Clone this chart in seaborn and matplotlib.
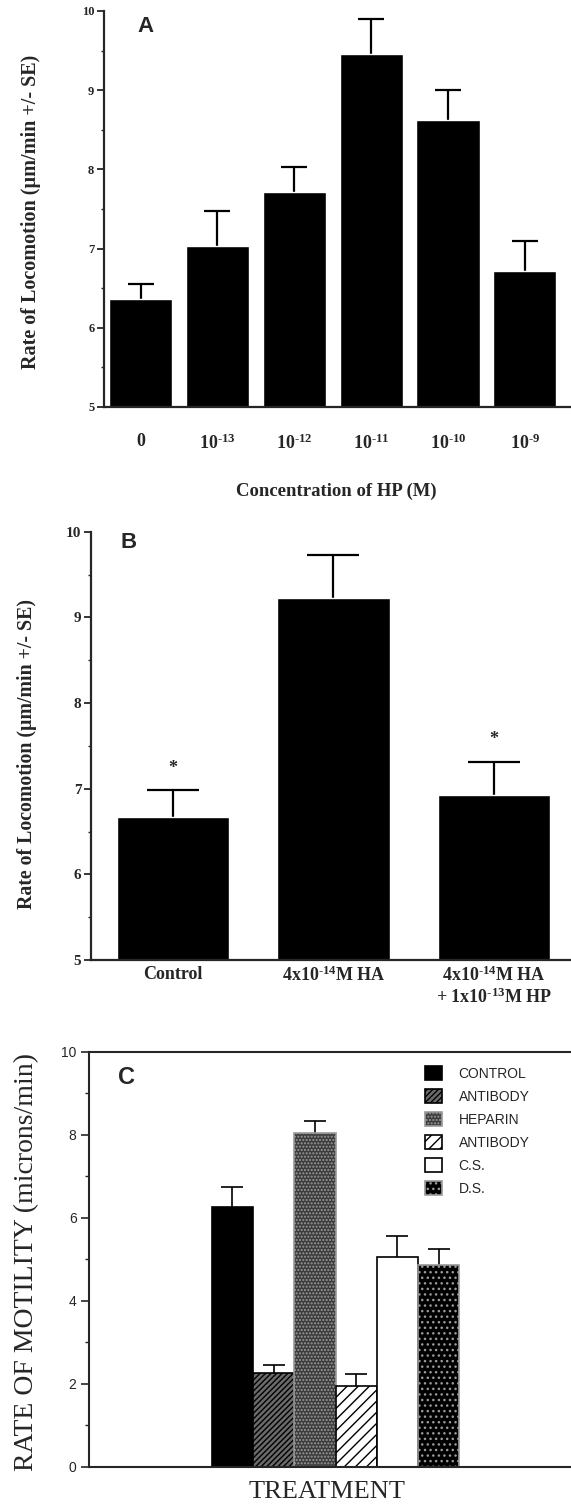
import matplotlib
matplotlib.use('agg')
import matplotlib.pyplot as plt
import seaborn as sns
import pandas as pd
import numpy as np
from matplotlib.patches import Patch
from matplotlib.ticker import MultipleLocator

## panel A: HP dose response
conc_labels = ['0', r'10$^{\text{-13}}$', r'10$^{\text{-12}}$', r'10$^{\text{-11}}$',
	r'10$^{\text{-10}}$', r'10$^{\text{-9}}$']
conc_rate = [6.36, 7.03, 7.72, 9.46, 8.62, 6.72]
conc_se = [0.19, 0.44, 0.31, 0.44, 0.38, 0.38]

## panel B: HA +/- HP
treat_labels = ['Control', r'4x10$^{\text{-14}}$M HA',
	'4x10$^{\\text{-14}}$M HA\n+ 1x10$^{\\text{-13}}$M HP']
treat_rate = [6.67, 9.23, 6.93]
treat_se = [0.31, 0.50, 0.38]
treat_star = [True, False, True]

## panel C: motility by treatment
gag_keys = ['control', 'antibody_1', 'heparin', 'antibody_2', 'cs', 'ds']
gag_labels = ['CONTROL', 'ANTIBODY', 'HEPARIN', 'ANTIBODY', 'C.S.', 'D.S.']
gag_rate = [6.25, 2.26, 8.04, 1.96, 5.05, 4.87]
gag_se = [0.50, 0.20, 0.30, 0.28, 0.52, 0.39]

sns.set_style('ticks')
plt.rcParams['font.family'] = ['Liberation Serif', 'DejaVu Serif']
plt.rcParams['mathtext.fontset'] = 'custom'
plt.rcParams['mathtext.rm'] = 'Liberation Serif:bold'
plt.rcParams['mathtext.it'] = 'Liberation Serif:bold:italic'
plt.rcParams['mathtext.bf'] = 'Liberation Serif:bold'
plt.rcParams['mathtext.default'] = 'rm'
plt.rcParams['hatch.linewidth'] = 1.0

W, H = 571, 1511
fig = plt.figure(figsize=(W / 100, H / 100), dpi=100)


def box(left, right, top, bottom):
	return [left / W, 1 - bottom / H, (right - left) / W, (bottom - top) / H]


def se_bars(ax, vals, se, cap, lw):
	## symmetric SE bars drawn under the bars, so only the upper half shows
	ax.errorbar(np.arange(len(vals)), vals, yerr=se, fmt='none',
		ecolor='black', elinewidth=lw, capsize=cap, capthick=lw, zorder=0.5)


def serif_axes(ax, tick_fs):
	sns.despine(ax=ax)
	for s in ['left', 'bottom']:
		ax.spines[s].set_linewidth(1.6)
	ax.set_ylim(5, 10)
	ax.yaxis.set_major_locator(MultipleLocator(1))
	ax.yaxis.set_minor_locator(MultipleLocator(0.5))
	ax.tick_params(axis='y', which='major', length=5, width=1.3, labelsize=tick_fs, pad=2)
	ax.tick_params(axis='y', which='minor', length=2.5, width=1.0)
	ax.tick_params(axis='x', length=0)
	for t in ax.get_yticklabels():
		t.set_fontweight('bold')


##------- panel A ---------------------
dfA = pd.DataFrame({'conc': conc_labels, 'rate': conc_rate})
axA = fig.add_axes(box(104, 571, 11, 407))
sns.barplot(data=dfA, x='conc', y='rate', color='black', saturation=1,
	width=0.82, errorbar=None, ax=axA)
se_bars(axA, conc_rate, conc_se, 9.5, 1.6)
serif_axes(axA, 9)
axA.set_xlim(-0.475, 5.6)
axA.set_xticks(range(len(conc_labels)))
axA.set_xticklabels(conc_labels, fontsize=13, fontweight='bold')
axA.tick_params(axis='x', pad=19)
axA.set_xlabel('Concentration of HP (M)', fontsize=13.5, fontweight='bold')
axA.xaxis.set_label_coords((336 - 104) / (571 - 104), -(483 - 407) / 396)
axA.set_ylabel('Rate of Locomotion (\u00b5m/min +/- SE)', fontsize=14.5, fontweight='bold')
axA.yaxis.set_label_coords(-(104 - 41) / (571 - 104), 1 - (212 - 11) / 396)
fig.text(146 / W, 1 - 27 / H, 'A', fontsize=16, fontweight='bold',
	family='Liberation Sans', ha='center', va='center')

##------- panel B ---------------------
dfB = pd.DataFrame({'treat': treat_labels, 'rate': treat_rate})
axB = fig.add_axes(box(91, 571, 531.7, 960))
sns.barplot(data=dfB, x='treat', y='rate', color='black', saturation=1,
	width=0.70, errorbar=None, ax=axB)
se_bars(axB, treat_rate, treat_se, 18.5, 1.6)
serif_axes(axB, 11)
axB.set_xlim(-0.51, 2.48)
axB.set_xticks(range(len(treat_labels)))
axB.set_xticklabels(treat_labels, fontsize=13, fontweight='bold',
	va='top', multialignment='center')
axB.tick_params(axis='x', pad=4)
axB.set_xlabel('')
for i, star in enumerate(treat_star):
	if star:
		axB.text(i, treat_rate[i] + treat_se[i] + 0.26, '*', ha='center', va='center',
			fontsize=13, fontweight='bold')
axB.set_ylabel('Rate of Locomotion (\u00b5m/min +/- SE)', fontsize=14.3, fontweight='bold')
axB.yaxis.set_label_coords(-(91 - 37) / (571 - 91), 1 - (754 - 531.7) / 428.3)
fig.text(129 / W, 1 - 543 / H, 'B', fontsize=16, fontweight='bold',
	family='Liberation Sans', ha='center', va='center')

##------- panel C ---------------------
face = {'control': 'black', 'antibody_1': '#6a6a6a', 'heparin': '#3c3c3c',
	'antibody_2': 'white', 'cs': 'white', 'ds': 'black'}
hatch = {'control': None, 'antibody_1': '//////', 'heparin': '.....',
	'antibody_2': '///', 'cs': None, 'ds': '...'}
hatch_col = {'control': 'black', 'antibody_1': 'black', 'heparin': '#9a9a9a',
	'antibody_2': 'black', 'cs': 'black', 'ds': '#9a9a9a'}


def style_patch(p, key):
	p.set_facecolor(face[key])
	p.set_hatch(hatch[key])
	if hasattr(p, 'set_hatchcolor'):
		p.set_edgecolor('black')
		p.set_hatchcolor(hatch_col[key])
	else:
		p.set_edgecolor(hatch_col[key] if hatch[key] else 'black')
	p.set_linewidth(1.2)


dfC = pd.DataFrame({'key': gag_keys, 'rate': gag_rate})
axC = fig.add_axes(box(89, 575, 1051.7, 1467))
sns.barplot(data=dfC, x='key', y='rate', hue='key', dodge=False, width=1.0,
	palette=['white'] * len(gag_keys), saturation=1, errorbar=None, legend=False, ax=axC)
bars = sorted(axC.patches, key=lambda p: p.get_x())
for p, key in zip(bars, gag_keys):
	style_patch(p, key)
se_bars(axC, gag_rate, gag_se, 7.8, 1.2)
axC.set_xlim(-3.47, 8.3)
axC.set_ylim(0, 10)
axC.spines['right'].set_visible(False)
for s in ['left', 'bottom', 'top']:
	axC.spines[s].set_linewidth(1.5)
axC.set_xticks([])
axC.yaxis.set_major_locator(MultipleLocator(2))
axC.yaxis.set_minor_locator(MultipleLocator(1))
axC.tick_params(axis='y', which='major', length=6, width=1.2, labelsize=10, pad=3)
axC.tick_params(axis='y', which='minor', length=3, width=1.0)
for t in axC.get_yticklabels():
	t.set_family('Liberation Sans')
axC.set_xlabel('TREATMENT', fontsize=19)
axC.set_ylabel('RATE OF MOTILITY (microns/min)', fontsize=20)
axC.yaxis.set_label_coords(-(89 - 39) / (575 - 89), 1 - (1262 - 1051.7) / 415.3)
axC.xaxis.set_label_coords((327 - 89) / (575 - 89), -(1481 - 1467) / 415.3)
fig.text(126.5 / W, 1 - 1077 / H, 'C', fontsize=17, fontweight='bold',
	family='Liberation Sans', ha='center', va='center')

handles = []
for key, lab in zip(gag_keys, gag_labels):
	h = Patch(label=lab)
	style_patch(h, key)
	handles.append(h)
leg = fig.legend(handles=handles, loc='upper left', bbox_to_anchor=(425 / W, 1 - 1066 / H),
	frameon=False, handlelength=1.22, handleheight=1.22,
	handletextpad=1.2, labelspacing=0.58, borderpad=0, borderaxespad=0,
	prop={'family': 'Liberation Sans', 'size': 10})

plt.savefig('out.png', dpi=100)
